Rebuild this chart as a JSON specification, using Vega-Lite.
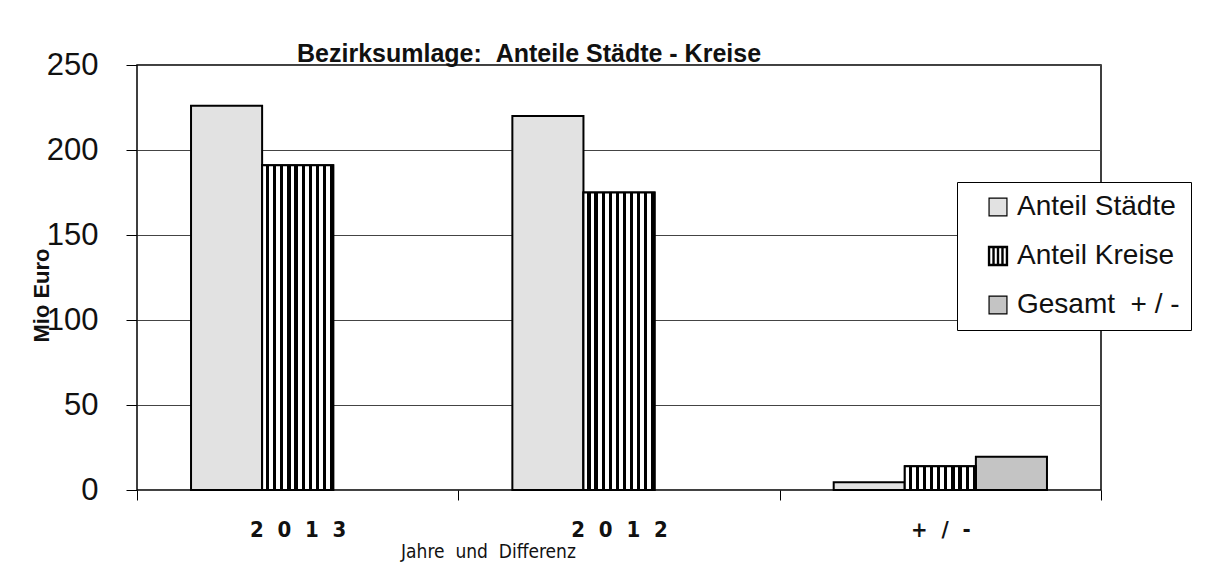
{
  "$schema": "https://vega.github.io/schema/vega-lite/v6.json",
  "autosize": {"type": "none"},
  "padding": {"left": 137, "top": 65, "right": 122, "bottom": 96},
  "width": 964,
  "height": 425,
  "background": "white",
  "title": {
    "text": "Bezirksumlage:\u00a0\u00a0Anteile Städte - Kreise",
    "anchor": "start",
    "frame": "group",
    "dx": 160,
    "dy": 46,
    "baseline": "bottom",
    "offset": 3,
    "font": "Liberation Sans",
    "fontSize": 25,
    "fontWeight": "bold",
    "color": "#111"
  },
  "config": {
    "view": {"stroke": "black", "strokeWidth": 1.5, "fill": "white"},
    "axis": {"labelColor": "#111", "titleColor": "#111"},
    "legend": {
      "strokeColor": "black",
      "fillColor": "white",
      "padding": 11
    }
  },
  "data": {
    "values": [
      {"kat": "2013", "serie": "Anteil Städte", "wert": 226},
      {"kat": "2013", "serie": "Anteil Kreise", "wert": 191},
      {"kat": "2012", "serie": "Anteil Städte", "wert": 220},
      {"kat": "2012", "serie": "Anteil Kreise", "wert": 175},
      {"kat": "+ / -", "serie": "Anteil Städte", "wert": 4.5},
      {"kat": "+ / -", "serie": "Anteil Kreise", "wert": 14},
      {"kat": "+ / -", "serie": "Gesamt\u00a0\u00a0+ / -", "wert": 19.5}
    ]
  },
  "encoding": {
    "x": {
      "field": "kat",
      "type": "nominal",
      "sort": ["2013", "2012", "+ / -"],
      "scale": {"paddingInner": 0, "paddingOuter": 0},
      "axis": {
        "labelAngle": 0,
        "labelExpr": "datum.label == '2013' ? '2\u00a0\u00a00\u00a0\u00a01\u00a0\u00a03' : datum.label == '2012' ? '2\u00a0\u00a00\u00a0\u00a01\u00a0\u00a02' : datum.label == '+ / -' ? '+\u00a0\u00a0/\u00a0\u00a0-' : ''",
        "labelFont": "'Liberation Sans Narrow', 'DejaVu Sans Condensed', 'Liberation Sans', sans-serif",
        "labelFontWeight": "bold",
        "labelFontSize": 22,
        "labelPadding": 19,
        "tickBand": "extent",
        "tickSize": 10,
        "tickColor": "black",
        "domain": false,
        "title": "Jahre\u00a0\u00a0und\u00a0\u00a0Differenz",
        "titleFont": "'Liberation Sans Narrow', 'DejaVu Sans Condensed', 'Liberation Sans', sans-serif",
        "titleFontSize": 19,
        "titleFontWeight": "normal",
        "titleX": 351,
        "titleY": 67,
        "titleBaseline": "alphabetic",
        "titleAlign": "center"
      }
    },
    "xOffset": {
      "field": "serie",
      "type": "nominal",
      "scale": {"domain": ["Anteil Städte", "Anteil Kreise", "Gesamt\u00a0\u00a0+ / -"], "paddingInner": 0, "paddingOuter": 0.76}
    },
    "y": {
      "field": "wert",
      "type": "quantitative",
      "scale": {"domain": [0, 250], "nice": false},
      "axis": {
        "values": [0, 50, 100, 150, 200, 250],
        "labelFont": "Liberation Sans",
        "labelFontSize": 31,
        "labelPadding": 28,
        "tickSize": 11,
        "tickColor": "black",
        "grid": true,
        "gridColor": "#444",
        "gridWidth": 1,
        "domain": false,
        "title": "Mio Euro",
        "titleFont": "Liberation Sans",
        "titleFontSize": 22,
        "titleFontWeight": "bold",
        "titleAngle": -90,
        "titleX": -96,
        "titleY": 230,
        "titleAlign": "center",
        "titleBaseline": "middle"
      }
    }
  },
  "layer": [
    {
      "mark": {"type": "bar", "stroke": "black", "strokeWidth": 2, "opacity": 1},
      "encoding": {
        "color": {
          "field": "serie",
          "type": "nominal",
          "scale": {
            "domain": ["Anteil Städte", "Anteil Kreise", "Gesamt\u00a0\u00a0+ / -"],
            "range": ["#e2e2e2", "#ffffff", "#c4c4c4"]
          },
          "legend": {
            "title": null,
            "orient": "none",
            "legendX": 820,
            "legendY": 117,
            "labelFont": "Liberation Sans",
            "labelFontSize": 28,
            "labelColor": "#111",
            "labelLimit": 300,
            "symbolType": "square",
            "symbolSize": 320,
            "symbolStrokeColor": "black",
            "symbolStrokeWidth": 1.2,
            "symbolOpacity": 1,
            "symbolOffset": 16,
            "rowPadding": 21,
            "labelOffset": 5,
            "encode": {
              "symbols": {
                "update": {
                  "shape": {"signal": "datum.label == 'Anteil Kreise' ? 'M-1,-1H1V1H-1Z M-0.5,-1V1 M0,-1V1 M0.5,-1V1' : 'square'"},
                  "stroke": {"value": "black"},
                  "strokeWidth": {"signal": "datum.label == 'Anteil Kreise' ? 2.4 : 1.2"}
                }
              }
            }
          }
        }
      }
    },
    {
      "transform": [{"filter": "datum.serie === 'Anteil Kreise'"}],
      "mark": {
        "type": "bar",
        "stroke": "black",
        "strokeWidth": 2,
        "fill": {"gradient": "linear", "x1": 0, "x2": 1, "y1": 0, "y2": 0, "stops": [
          {"offset": 0, "color": "white"}, {"offset": 0.055, "color": "white"}, {"offset": 0.055, "color": "black"}, {"offset": 0.1, "color": "black"},
          {"offset": 0.1, "color": "white"}, {"offset": 0.155, "color": "white"}, {"offset": 0.155, "color": "black"}, {"offset": 0.2, "color": "black"},
          {"offset": 0.2, "color": "white"}, {"offset": 0.255, "color": "white"}, {"offset": 0.255, "color": "black"}, {"offset": 0.3, "color": "black"},
          {"offset": 0.3, "color": "white"}, {"offset": 0.355, "color": "white"}, {"offset": 0.355, "color": "black"}, {"offset": 0.4, "color": "black"},
          {"offset": 0.4, "color": "white"}, {"offset": 0.455, "color": "white"}, {"offset": 0.455, "color": "black"}, {"offset": 0.5, "color": "black"},
          {"offset": 0.5, "color": "white"}, {"offset": 0.555, "color": "white"}, {"offset": 0.555, "color": "black"}, {"offset": 0.6, "color": "black"},
          {"offset": 0.6, "color": "white"}, {"offset": 0.655, "color": "white"}, {"offset": 0.655, "color": "black"}, {"offset": 0.7, "color": "black"},
          {"offset": 0.7, "color": "white"}, {"offset": 0.755, "color": "white"}, {"offset": 0.755, "color": "black"}, {"offset": 0.8, "color": "black"},
          {"offset": 0.8, "color": "white"}, {"offset": 0.855, "color": "white"}, {"offset": 0.855, "color": "black"}, {"offset": 0.9, "color": "black"},
          {"offset": 0.9, "color": "white"}, {"offset": 0.955, "color": "white"}, {"offset": 0.955, "color": "black"}, {"offset": 1, "color": "black"}
        ]}
      }
    }
  ]
}
